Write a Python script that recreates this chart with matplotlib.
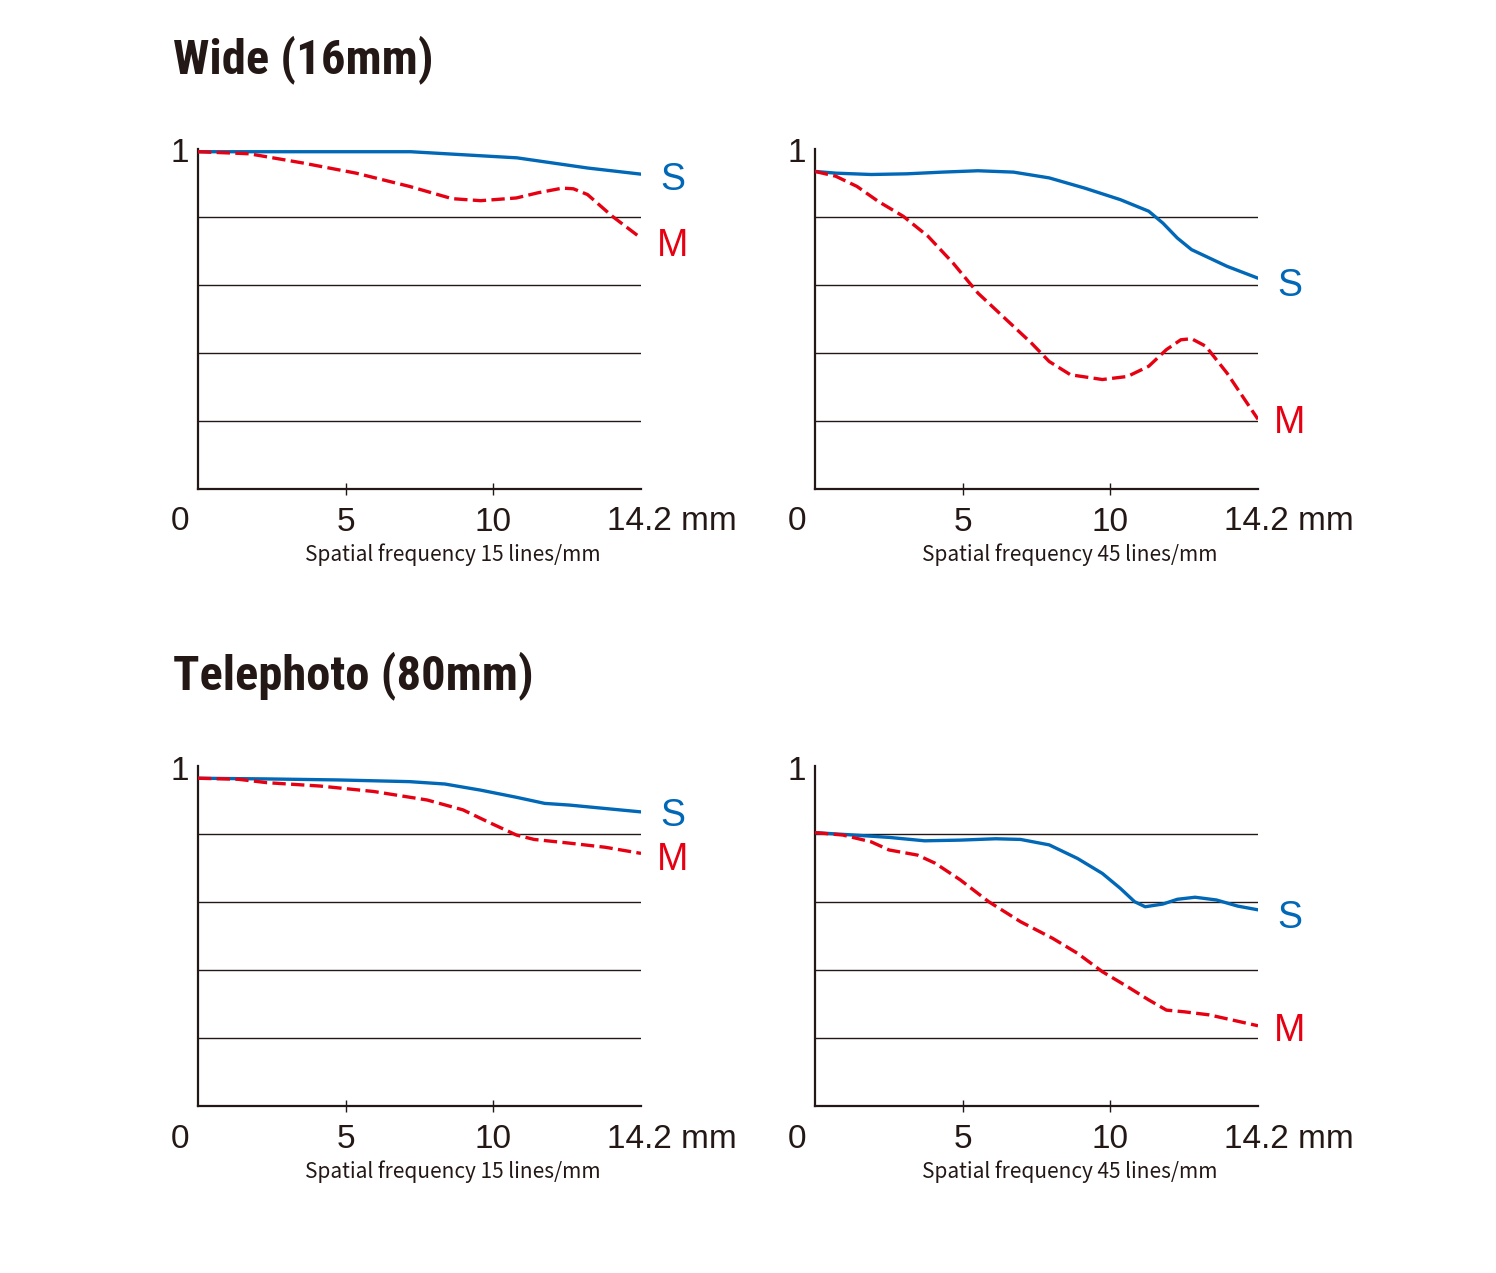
import matplotlib
matplotlib.use("Agg")
import matplotlib.pyplot as plt
from matplotlib import font_manager

# MTF readings (image height in mm on x, contrast on y)
x_tl_s = [0, 7.2, 8.4, 10.8, 12.0, 13.2, 15.0]
y_tl_s = [0.992, 0.992, 0.986, 0.974, 0.959, 0.944, 0.926]
x_tl_m = [0, 1.73, 3.54, 5.35, 7.16, 8.60, 9.57, 10.78, 11.50, 12.34, 12.71, 13.19, 14.03, 15.0]
y_tl_m = [0.992, 0.986, 0.959, 0.929, 0.890, 0.854, 0.848, 0.856, 0.871, 0.885, 0.883, 0.866, 0.802, 0.738]

x_tr_s = [0, 0.70, 1.90, 3.11, 4.31, 5.52, 6.72, 7.93, 9.13, 10.34, 11.30, 11.78, 12.27, 12.75, 13.95, 15.0]
y_tr_s = [0.934, 0.929, 0.925, 0.927, 0.932, 0.936, 0.932, 0.915, 0.885, 0.851, 0.817, 0.782, 0.738, 0.704, 0.655, 0.620]
x_tr_m = [0, 0.70, 1.42, 2.14, 2.99, 3.83, 4.67, 5.52, 6.48, 7.33, 7.93, 8.65, 9.73, 10.58, 11.30,
          11.90, 12.39, 12.75, 13.23, 13.95, 14.55, 15.0]
y_tr_m = [0.934, 0.920, 0.890, 0.846, 0.802, 0.743, 0.665, 0.576, 0.498, 0.429, 0.375, 0.336, 0.322, 0.331,
          0.361, 0.410, 0.439, 0.442, 0.420, 0.341, 0.263, 0.205]

x_bl_s = [0, 2.33, 4.74, 7.16, 8.36, 9.57, 10.78, 11.74, 12.59, 13.79, 15.0]
y_bl_s = [0.964, 0.962, 0.959, 0.954, 0.947, 0.929, 0.908, 0.890, 0.885, 0.875, 0.865]
x_bl_m = [0, 1.36, 2.33, 4.14, 5.95, 7.76, 8.97, 9.81, 10.78, 11.38, 12.59, 13.79, 15.0]
y_bl_m = [0.964, 0.961, 0.951, 0.941, 0.925, 0.900, 0.871, 0.836, 0.797, 0.784, 0.773, 0.761, 0.743]

x_br_s = [0, 1.30, 2.51, 3.71, 4.92, 6.12, 6.96, 7.93, 8.89, 9.73, 10.34, 10.82, 11.18, 11.78, 12.27,
          12.87, 13.59, 14.31, 15.0]
y_br_s = [0.804, 0.797, 0.790, 0.780, 0.782, 0.786, 0.784, 0.768, 0.728, 0.684, 0.640, 0.601, 0.586,
          0.594, 0.608, 0.614, 0.606, 0.588, 0.577]
x_br_m = [0, 0.94, 1.90, 2.51, 3.47, 4.07, 4.92, 5.88, 6.96, 8.05, 8.89, 9.73, 10.58, 11.30, 11.90,
          12.51, 13.35, 15.0]
y_br_m = [0.804, 0.797, 0.777, 0.753, 0.738, 0.714, 0.665, 0.601, 0.542, 0.493, 0.449, 0.395, 0.351,
          0.312, 0.282, 0.277, 0.268, 0.236]

titles = ["Wide (16mm)", "Telephoto (80mm)"]
freq_labels = ["Spatial frequency 15 lines/mm", "Spatial frequency 45 lines/mm"]
x_ticks = [5, 10]
x_end_label = "14.2 mm"
grid_levels = [0.2, 0.4, 0.6, 0.8]

# (S label y, M label y) for each panel
label_y = {
    "tl": (0.910, 0.716),
    "tr": (0.598, 0.195),
    "bl": (0.854, 0.724),
    "br": (0.554, 0.221),
}

BLUE = "#0068b7"
RED = "#e60012"
INK = "#231815"
W, H = 1496, 1273

available = {f.name for f in font_manager.fontManager.ttflist}
title_font = "DejaVu Sans"
for cand in ["Liberation Sans Narrow", "DejaVu Sans Condensed", "Roboto Condensed",
             "Open Sans Condensed", "Noto Sans Condensed"]:
    if cand in available:
        title_font = cand
        break
num_font = "Liberation Sans"
cap_font = "Noto Sans CJK JP" if "Noto Sans CJK JP" in available else "Noto Sans"


def px(v):
    return v * 0.72


def panel(fig, left, bottom, xs, ys, xm, ym, key, freq):
    ax = fig.add_axes([left / W, 1 - bottom / H, 443 / W, 340 / H])
    ax.set_xlim(0, 15)
    ax.set_ylim(0, 1)
    for g in grid_levels:
        ax.axhline(g, color=INK, lw=1.0, zorder=1)
    ax.plot(xs, ys, color=BLUE, lw=2.4, solid_joinstyle="round", solid_capstyle="round", zorder=3)
    ax.plot(xm, ym, color=RED, lw=2.4, dashes=(4, 1.6), zorder=4)

    for s in ["top", "right"]:
        ax.spines[s].set_visible(False)
    for s in ["left", "bottom"]:
        ax.spines[s].set_color(INK)
        ax.spines[s].set_linewidth(1.6)

    ax.set_xticks(x_ticks)
    ax.set_xticklabels([str(t) for t in x_ticks])
    ax.tick_params(axis="x", direction="inout", length=8, width=1.0, color=INK,
                   labelsize=24, labelcolor=INK, pad=9)
    for lab in ax.get_xticklabels():
        lab.set_fontfamily(num_font)
    ax.set_yticks([])

    ax.annotate("1", xy=(0, 1), xytext=(px(-18), px(-5)), textcoords="offset points",
                ha="center", va="center", fontsize=24, color=INK, family=num_font)
    ax.annotate("0", xy=(0, 0), xytext=(px(-18), px(-33)), textcoords="offset points",
                ha="center", va="center", fontsize=24, color=INK, family=num_font)
    ax.annotate(x_end_label, xy=(15, 0), xytext=(px(31), px(-33)), textcoords="offset points",
                ha="center", va="center", fontsize=24, color=INK, family=num_font,
                annotation_clip=False)
    ax.annotate(freq, xy=(0.575, 0), xycoords="axes fraction", xytext=(0, px(-66)),
                textcoords="offset points", ha="center", va="center", fontsize=15,
                color=INK, family=cap_font)

    sy, my = label_y[key]
    ax.text(16.08, sy, "S", color=BLUE, fontsize=27, ha="center", va="center", family=num_font)
    ax.text(16.08, my, "M", color=RED, fontsize=27, ha="center", va="center", family=num_font)
    return ax


fig = plt.figure(figsize=(W / 100, H / 100), dpi=100)
fig.patch.set_facecolor("white")

panel(fig, 198, 489, x_tl_s, y_tl_s, x_tl_m, y_tl_m, "tl", freq_labels[0])
panel(fig, 815, 489, x_tr_s, y_tr_s, x_tr_m, y_tr_m, "tr", freq_labels[1])
panel(fig, 198, 1106, x_bl_s, y_bl_s, x_bl_m, y_bl_m, "bl", freq_labels[0])
panel(fig, 815, 1106, x_br_s, y_br_s, x_br_m, y_br_m, "br", freq_labels[1])

fig.text(173 / W, 1 - 60 / H, titles[0], ha="left", va="center", fontsize=35,
         fontweight="bold", color=INK, family=title_font)
fig.text(173 / W, 1 - 676 / H, titles[1], ha="left", va="center", fontsize=35,
         fontweight="bold", color=INK, family=title_font)

fig.savefig("out.png", dpi=100, facecolor="white")
